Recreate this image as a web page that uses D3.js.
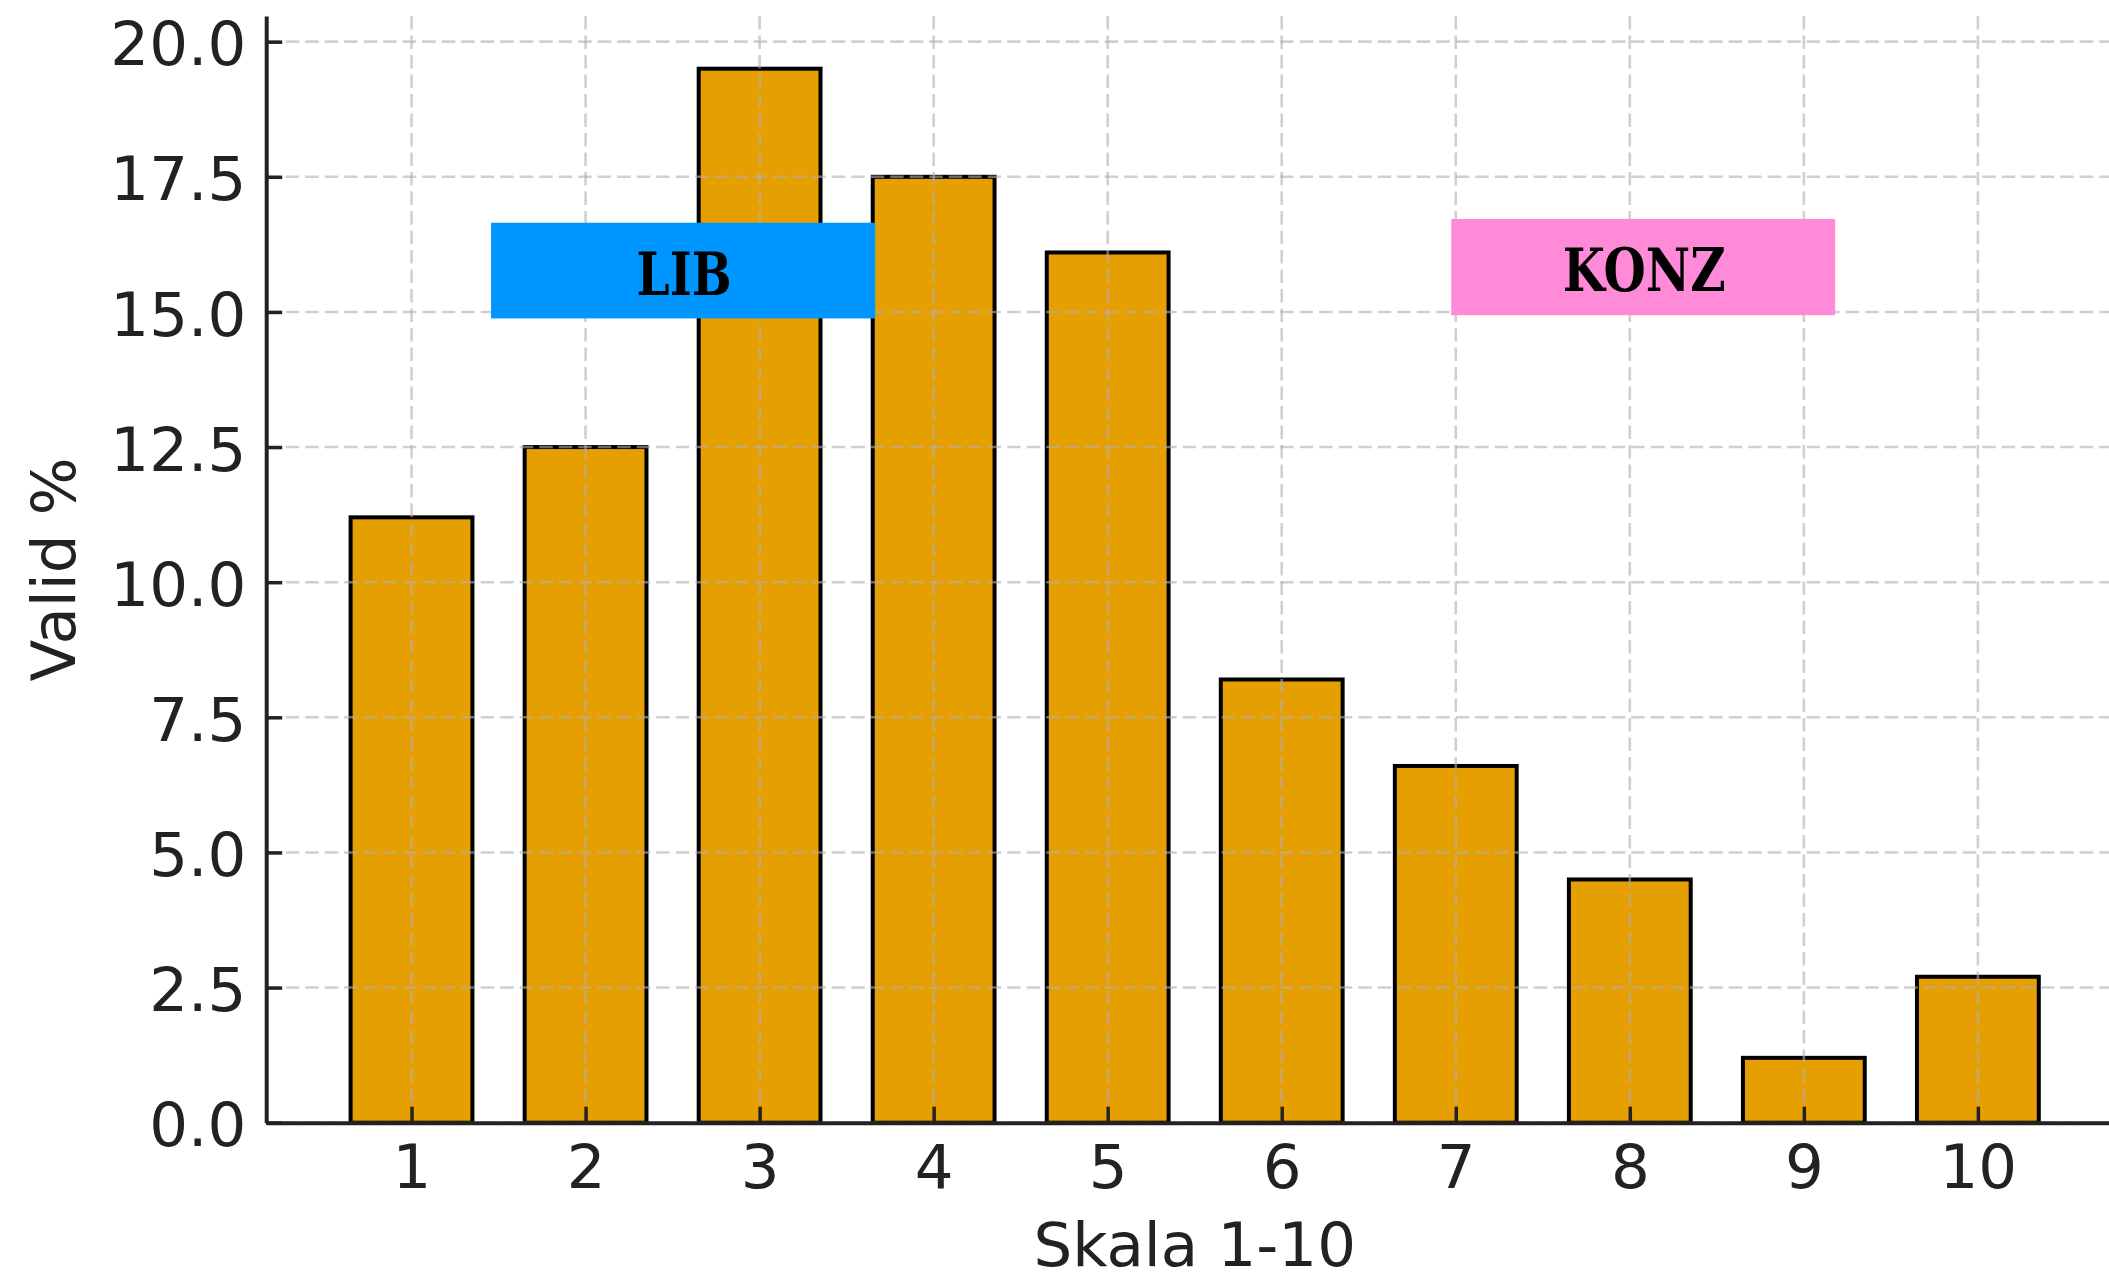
<!DOCTYPE html>
<html><head><meta charset="utf-8">
<script src="https://cdn.jsdelivr.net/npm/d3@7"></script>
<style>html,body{margin:0;padding:0;background:#fff;overflow:hidden}</style>
</head><body><svg id="chart" width="2109" height="1276"></svg>
<script>
// ---- data ----
const categories = [1, 2, 3, 4, 5, 6, 7, 8, 9, 10];
const values = [11.2, 12.5, 19.5, 17.5, 16.1, 8.2, 6.6, 4.5, 1.2, 2.7];
const yTicks = [0, 2.5, 5, 7.5, 10, 12.5, 15, 17.5, 20];
const xTitle = "Skala 1-10";
const yTitle = "Valid %";
// annotation boxes (data coordinates)
const annotLabels = ["LIB", "KONZ"];
const annotX0 = [1.457, 6.974];
const annotX1 = [3.664, 9.18];
const annotY0 = [14.88, 14.94];
const annotY1 = [16.65, 16.72];
const annotFill = ["#0096FF", "#FF8AD8"];

// ---- layout ----
const plotLeft = 266.2, plotRight = 2123.2, plotTop = 16, plotBottom = 1122.7;
const barWidth = 0.7;

const svg = d3.select("#chart");
const x = d3.scaleLinear().domain([0.165, 10.835]).range([plotLeft, plotRight]);
const y = d3.scaleLinear().domain([0, 20.475]).range([plotBottom, plotTop]);

const font = "'DejaVu Sans', sans-serif";
const ink = "#222";

// bars
svg.append("g").selectAll("rect").data(categories).join("rect")
  .attr("x", (d) => x(d - barWidth / 2))
  .attr("width", (d) => x(d + barWidth / 2) - x(d - barWidth / 2))
  .attr("y", (d, i) => y(values[i]))
  .attr("height", (d, i) => y(0) - y(values[i]))
  .attr("fill", "#E69F00")
  .attr("stroke", "#000")
  .attr("stroke-width", 4);

// grid (on top of bars)
const grid = svg.append("g").attr("stroke", "#b0b0b0").attr("stroke-opacity", 0.6)
  .attr("stroke-width", 2.6).attr("stroke-dasharray", "13.5,6");
grid.selectAll("line.v").data(categories).join("line").attr("class", "v")
  .attr("x1", (d) => x(d)).attr("x2", (d) => x(d))
  .attr("y1", plotTop).attr("y2", plotBottom);
grid.selectAll("line.h").data(yTicks).join("line").attr("class", "h")
  .attr("x1", plotLeft).attr("x2", plotRight)
  .attr("y1", (d) => y(d)).attr("y2", (d) => y(d));

// annotation boxes
const ann = svg.append("g");
annotLabels.forEach((lab, i) => {
  ann.append("rect")
    .attr("x", x(annotX0[i])).attr("width", x(annotX1[i]) - x(annotX0[i]))
    .attr("y", y(annotY1[i])).attr("height", y(annotY0[i]) - y(annotY1[i]))
    .attr("fill", annotFill[i]);
});
const textLens = [95, 163];
annotLabels.forEach((lab, i) => {
  const cx = (x(annotX0[i]) + x(annotX1[i])) / 2 + 1;
  const cy = (y(annotY0[i]) + y(annotY1[i])) / 2;
  ann.append("text")
    .attr("x", cx).attr("y", cy).attr("dy", "0.4em")
    .attr("text-anchor", "middle")
    .attr("font-family", "'DejaVu Serif', serif")
    .attr("font-weight", "bold")
    .attr("font-size", 60)
    .attr("textLength", textLens[i])
    .attr("lengthAdjust", "spacingAndGlyphs")
    .attr("fill", "#000")
    .text(lab);
});

// axes
const xAxis = d3.axisBottom(x).tickValues(categories).tickFormat(d3.format("d"))
  .tickSizeInner(-16).tickSizeOuter(0).tickPadding(22);
const gx = svg.append("g").attr("transform", `translate(0,${plotBottom})`).call(xAxis);
gx.select(".domain").attr("stroke", ink).attr("stroke-width", 4);
gx.selectAll(".tick line").attr("stroke", ink).attr("stroke-width", 3.5);
gx.selectAll(".tick text").attr("font-family", font).attr("font-size", 61).attr("fill", ink);

const yAxis = d3.axisLeft(y).tickValues(yTicks).tickFormat(d3.format(".1f"))
  .tickSizeInner(-16).tickSizeOuter(0).tickPadding(20);
const gy = svg.append("g").attr("transform", `translate(${plotLeft},0)`).call(yAxis);
gy.select(".domain").attr("stroke", ink).attr("stroke-width", 4);
gy.selectAll(".tick line").attr("stroke", ink).attr("stroke-width", 3.5);
gy.selectAll(".tick text").attr("font-family", font).attr("font-size", 61).attr("fill", ink)
  .attr("dy", "0.38em");

// axis titles
svg.append("text").attr("x", (plotLeft + plotRight) / 2).attr("y", 1266)
  .attr("text-anchor", "middle").attr("font-family", font).attr("font-size", 61)
  .attr("fill", ink).text(xTitle);
svg.append("text")
  .attr("transform", `translate(75,${(plotTop + plotBottom) / 2}) rotate(-90)`)
  .attr("text-anchor", "middle").attr("font-family", font).attr("font-size", 61)
  .attr("fill", ink).text(yTitle);
</script></body></html>
